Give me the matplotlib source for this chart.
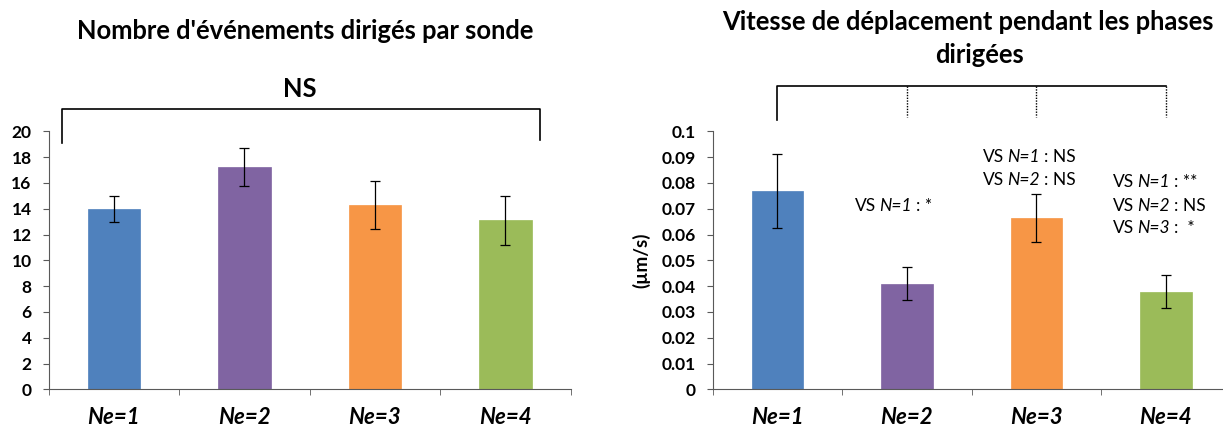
import matplotlib
matplotlib.use("Agg")
import matplotlib.pyplot as plt
import matplotlib.transforms as mtransforms
import numpy as np

plt.rcParams['font.family'] = ['Lato', 'DejaVu Sans']

categories = ["Ne=1", "Ne=2", "Ne=3", "Ne=4"]
colors = ["#4F81BD", "#8064A2", "#F79646", "#9BBB59"]

events_mean = [13.95, 17.25, 14.3, 13.1]
events_err = [1.0, 1.47, 1.86, 1.9]

speed_mean = [0.0769, 0.0410, 0.0664, 0.0379]
speed_err = [0.0144, 0.0065, 0.0094, 0.0064]

left_title = "Nombre d'événements dirigés par sonde"
right_title_1 = "Vitesse de déplacement pendant les phases"
right_title_2 = "dirigées"
ylabel_right = "(µm/s)"

W, H = 1223, 430
fig = plt.figure(figsize=(W/100, H/100), dpi=100)
axL = fig.add_axes([48.7/W, 1-389.3/H, 522/W, 258/H])
axR = fig.add_axes([712.7/W, 1-389.3/H, 518/W, 258/H])

x = np.arange(len(categories))


def style(ax, ylim, yticks, ylabels):
    ax.set_xlim(-0.5, 3.5)
    ax.set_ylim(*ylim)
    for s in ['top', 'right']:
        ax.spines[s].set_visible(False)
    ax.spines['left'].set_color('#595959')
    ax.spines['bottom'].set_color('#595959')
    ax.set_yticks(yticks)
    ax.set_yticklabels(ylabels, fontsize=12.5, fontweight='bold')
    ax.tick_params(axis='y', length=4.3, color='#595959', pad=8)
    ax.set_xticks(x)
    ax.set_xticklabels(categories, fontsize=16, fontweight='bold', fontstyle='italic')
    ax.tick_params(axis='x', length=0, pad=13)
    ax.set_xticks(np.arange(-0.5, 4, 1), minor=True)
    ax.tick_params(axis='x', which='minor', length=4.5, color='#595959', direction='out')


axL.bar(x, events_mean, width=0.4, color=colors, edgecolor=colors, linewidth=0.5,
        yerr=events_err, error_kw=dict(ecolor='black', elinewidth=0.9, capsize=3.5, capthick=0.9),
        zorder=2)
style(axL, (0, 20), np.arange(0, 21, 2), [str(v) for v in range(0, 21, 2)])

axR.bar(x, speed_mean, width=0.4, color=colors, edgecolor=colors, linewidth=0.5,
        yerr=speed_err, error_kw=dict(ecolor='black', elinewidth=0.9, capsize=3.5, capthick=0.9),
        zorder=2)
rticks = np.round(np.arange(0, 0.101, 0.01), 2)
style(axR, (0, 0.1), rticks, ["0"] + [f"{v:g}" for v in rticks[1:]])
fig.text(641/W, 1-260/H, ylabel_right, rotation=90, ha='center', va='center',
         fontsize=13.5, fontweight='bold')

# Titles
fig.text(305.5/W, 1-31/H, left_title, ha='center', va='center', fontsize=18.4, fontweight='bold')
fig.text(968/W, 1-22/H, right_title_1, ha='center', va='center', fontsize=18.4, fontweight='bold')
fig.text(979/W, 1-55/H, right_title_2, ha='center', va='center', fontsize=18.4, fontweight='bold')

# Left bracket
tL = mtransforms.blended_transform_factory(axL.transData, axL.transAxes)
bx0, bx1 = -0.398, 3.265
axL.plot([bx0, bx0, bx1, bx1], [0.953, 1.085, 1.085, 0.965], color='black', lw=1.2,
         transform=tL, clip_on=False)
axL.text(1.42, 1.165, "NS", transform=tL, ha='center', va='center', fontsize=18.4, fontweight='bold')

# Right bracket
tR = mtransforms.blended_transform_factory(axR.transData, axR.transAxes)
axR.plot([0, 0, 3], [1.043, 1.176, 1.176], color='black', lw=1.2, transform=tR, clip_on=False)
for xi in [1, 2, 3]:
    axR.plot([xi, xi], [1.176, 1.055], color='black', lw=1.0, linestyle=(0, (1, 1)),
             transform=tR, clip_on=False)


def rich(ax, xp, yp, pieces, fs=12.5):
    prev = None
    for s, it in pieces:
        style_ = 'italic' if it else 'normal'
        if prev is None:
            prev = ax.annotate(s, xy=(xp, yp), xycoords='figure pixels', ha='left', va='center',
                               fontsize=fs, fontstyle=style_, annotation_clip=False)
        else:
            prev = ax.annotate(s, xy=(1, 0.5), xycoords=prev, xytext=(2.5, 0),
                               textcoords='offset points', ha='left', va='center',
                               fontsize=fs, fontstyle=style_, annotation_clip=False)


def line(xp, yc_px, n, tail):
    rich(axR, xp, H - yc_px, [("VS", False), (f"N={n}", True), (tail, False)])

line(855, 206, 1, ": *")
line(983, 157, 1, ": NS")
line(983, 180, 2, ": NS")
line(1113, 182, 1, ": **")
line(1113, 206, 2, ": NS")
line(1113, 228, 3, ":  *")

fig.savefig("out.png", dpi=100)
